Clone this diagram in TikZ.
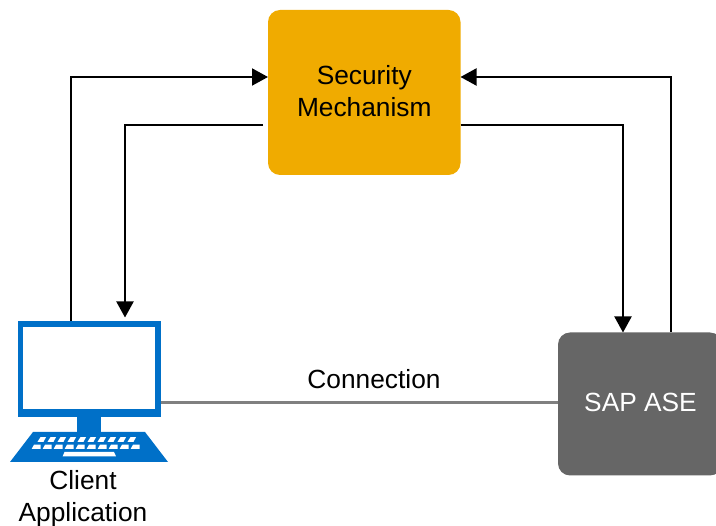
\documentclass[tikz,border=0pt]{standalone}
\usepackage{fontspec}
\setmainfont{Liberation Sans}
\usetikzlibrary{arrows.meta}
\definecolor{gold}{HTML}{F0AB00}
\definecolor{ase}{HTML}{666666}
\definecolor{pcblue}{HTML}{0070C8}
\definecolor{wire}{HTML}{808080}
\tikzset{
  flow/.style={draw=black,line width=2pt,line join=miter},
  tip/.style={-{Triangle[length=16pt,width=17pt]}},
  boxy/.style={rectangle,rounded corners=12pt,inner sep=0pt,outer sep=0pt},
  txt/.style={font=\fontsize{26.3}{32}\selectfont,align=center,inner sep=0pt,outer sep=0pt},
  key/.style={fill=white,draw=none}
}
\begin{document}
\begin{tikzpicture}[x=1pt,y=-1pt]
\useasboundingbox (0,0) rectangle (716,526);
% boxes
\node[boxy,fill=gold,minimum width=192.5pt,minimum height=165pt,
  label={[txt,yshift=1.5pt]center:Security\\Mechanism}] (sec) at (364.25,92.5) {};
\node[boxy,fill=ase,minimum width=164pt,minimum height=143pt,
  label={[txt,text=white,xshift=0.5pt,yshift=2pt]center:SAP ASE}] (sap) at (640,404) {};
% client computer
\node[rectangle,fill=pcblue,inner sep=0pt,outer sep=0pt,minimum width=142.5pt,minimum height=96pt] (client) at (89.25,369) {};
\node[rectangle,fill=white,inner sep=0pt,outer sep=0pt,minimum width=132pt,minimum height=82pt] (screen) at (89,368) {};
\fill[pcblue] (77,417) rectangle (101,433);
\fill[pcblue] (33,432) -- (145,432) -- (168,462) -- (10,462) -- cycle;
\foreach \i in {0,...,9}{
  \fill[key] ({40.5+\i*10},437.2) -- ({46+\i*10},437.2) -- ({43.5+\i*10},441.8) -- ({37.5+\i*10},441.8) -- cycle;
  \fill[key] ({34+\i*11},444.6) -- ({40.5+\i*11},444.6) -- ({40.5+\i*11},449) -- ({31.7+\i*11},449) -- cycle;
}
\fill[key] (64.5,452) -- (114,452) -- (116,456.3) -- (62.7,456.3) -- cycle;
\node[txt] (clientlabel) at (83,498.5) {Client\\Application};
% connectors
\coordinate (a1) at (71,321);
\coordinate (a2) at (sec.west |- 0,77);
\draw[flow,tip] (a1) |- (a2);
\coordinate (b1) at (263,125);
\coordinate (b2) at (125,317.5);
\draw[flow,tip] (b1) -| (b2);
\coordinate (c1) at (460.5,125);
\coordinate (c2) at (623,332.5);
\draw[flow,tip] (c1) -| (c2);
\coordinate (d1) at (671,332);
\coordinate (d2) at (sec.east |- 0,77);
\draw[flow,tip] (d1) |- (d2);
\draw[wire,line width=3.5pt] (client.east |- 0,402.5) -- (sap.west |- 0,402.5);
\node[txt] (conn) at (374,379) {Connection};
\end{tikzpicture}
\end{document}
